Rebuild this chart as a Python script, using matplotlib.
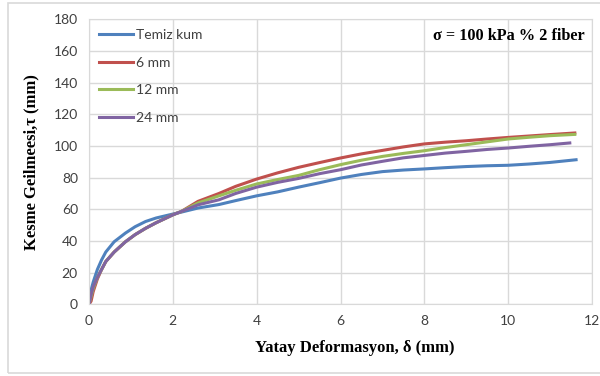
import matplotlib.pyplot as plt
from matplotlib.patches import Rectangle

# shared horizontal deformation points (mm), last point differs per series
deform = [0, 0.05, 0.1, 0.2, 0.3, 0.4, 0.6, 0.87, 1.1, 1.35, 1.6, 2.0, 2.2, 2.6,
          3.1, 3.5, 4.0, 4.5, 5.0, 5.5, 6.0, 6.5, 7.0, 7.5, 8.0, 8.5, 9.0, 9.5,
          10.0, 10.5, 11.0]
end_x = [11.62, 11.59, 11.59, 11.47]

labels = ["Temiz kum", "6 mm", "12 mm", "24 mm"]
colors = ["#4F81BD", "#C0504D", "#9BBB59", "#8064A2"]

temiz = [0, 9, 14, 22, 28, 33, 39.5, 45, 49, 52.3, 54.5, 57, 58.2, 60.8, 63, 65.5,
         68.5, 71, 74, 76.8, 79.7, 82, 83.8, 84.8, 85.5, 86.3, 87, 87.5, 87.8, 88.6,
         89.6, 91.3]
mm6 = [0, 2, 8, 16, 22, 27, 33, 39.5, 44, 48, 51.5, 56.5, 58.6, 65, 70, 74.5,
       79.1, 83, 86.5, 89.5, 92.4, 95, 97.2, 99.4, 101.3, 102.4, 103.3, 104.4,
       105.4, 106.3, 107.2, 108.2]
mm12 = [0, 5, 10, 17, 22, 27, 33, 39.5, 44, 48, 51.5, 56.5, 58.6, 64, 68.5, 72,
        76, 78.8, 81.4, 85, 88.2, 91, 93.4, 95.3, 97, 99, 100.8, 102.6, 104.4,
        105.5, 106.5, 107.3]
mm24 = [0, 6, 11, 17, 22, 27, 33, 39.5, 44, 48, 51.5, 56.5, 58.6, 62.8, 66, 70,
        74, 77, 79.5, 82.5, 85, 88, 90.3, 92.5, 94, 95.5, 96.6, 97.8, 98.7, 99.8,
        100.8, 101.9]

series = [temiz, mm6, mm12, mm24]

fig = plt.figure(figsize=(6, 3.76), dpi=100)
fig.patches.append(Rectangle((8 / 600, 3 / 376), 600, 370 / 376, transform=fig.transFigure,
                             fill=False, edgecolor="#D9D9D9", linewidth=1.2))
ax = fig.add_axes([89 / 600, 1 - 304.3 / 376, 503 / 600, 285 / 376])

for i in range(4):
    xs = deform + [end_x[i]]
    ax.plot(xs, series[i], color=colors[i], linewidth=2.2, label=labels[i])

ax.set_xlim(0, 12)
ax.set_ylim(0, 180)
ax.set_xticks(range(0, 13, 2))
ax.set_yticks(range(0, 181, 20))
ax.grid(True, color="#D9D9D9", linewidth=1)
ax.set_axisbelow(True)
for s in ax.spines.values():
    s.set_color("#D9D9D9")
ax.tick_params(length=0, labelsize=10, labelcolor="#404040", pad=8)
for t in ax.get_xticklabels() + ax.get_yticklabels():
    t.set_fontfamily("Lato")

serif = {"family": "Liberation Serif", "weight": "bold", "size": 12}
ax.set_xlabel("Yatay Deformasyon, δ (mm)", fontdict=serif, labelpad=9)
ax.xaxis.label.set_x(0.528)
ax.set_ylabel("Kesme Geilmeesi,τ (mm)", fontdict=serif, labelpad=10)
ax.text(0.985, 0.94, "σ = 100 kPa % 2 fiber", transform=ax.transAxes,
        ha="right", va="center", fontdict={**serif, "size": 11.7})

leg = ax.legend(loc="upper left", frameon=False, handlelength=2.5,
                labelspacing=1.12, borderaxespad=0.3, handletextpad=0.2,
                prop={"family": "Lato", "size": 10})
for t in leg.get_texts():
    t.set_color("#404040")

fig.savefig("out.png", dpi=100)
